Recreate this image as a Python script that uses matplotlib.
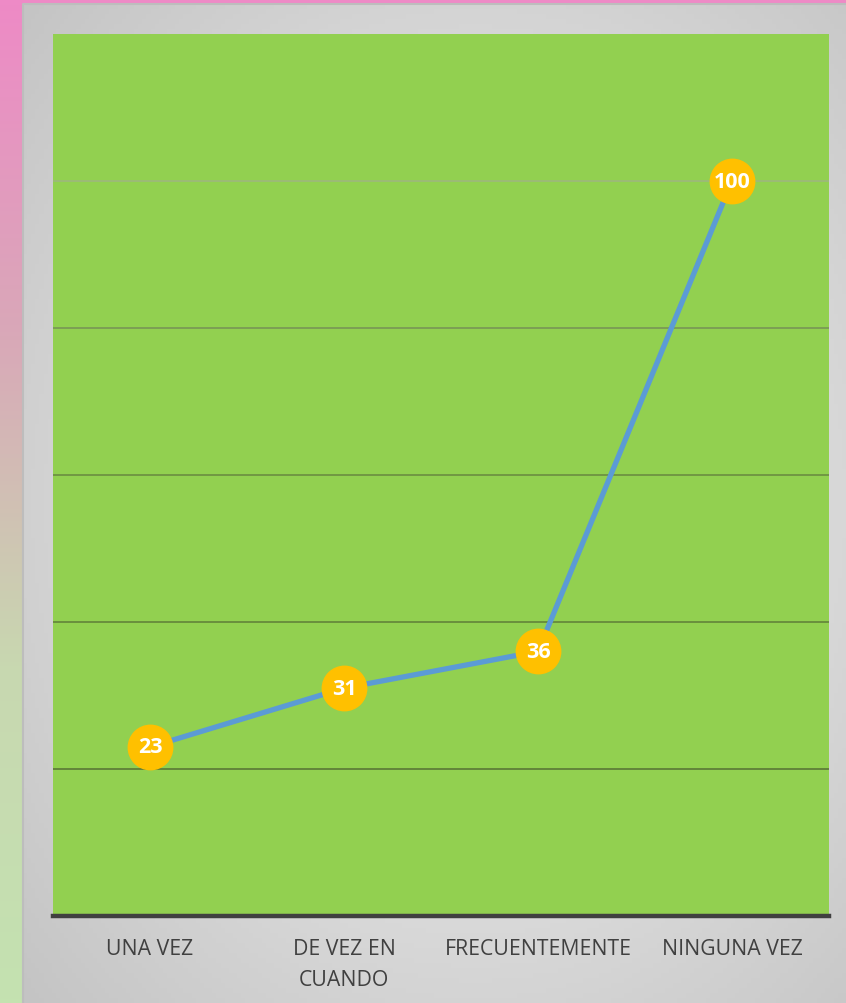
import numpy as np
import matplotlib.pyplot as plt
from matplotlib.colors import LinearSegmentedColormap

categories = ["UNA VEZ", "DE VEZ EN\nCUANDO", "FRECUENTEMENTE", "NINGUNA VEZ"]
values = [23, 31, 36, 100]
y_max = 120
grid_levels = [20, 40, 60, 80, 100]
grid_colors = ["#5f7f38", "#668a3c", "#6e9242", "#7a9a55", "#9cb97a"]

W, H = 846, 1004
fig = plt.figure(figsize=(W / 100, H / 100), dpi=100)

# background: pink/green edge strip, then grey panel
bg = fig.add_axes([0, 0, 1, 1])
bg.set_xlim(0, W)
bg.set_ylim(H, 0)
bg.axis("off")
strip = LinearSegmentedColormap.from_list("strip", ["#ee8ac6", "#d9a8b8", "#c8d8b0", "#c4e2b0"])
bg.imshow(np.linspace(0, 1, 256).reshape(-1, 1), cmap=strip, aspect="auto",
          extent=[0, W, H, 0], zorder=0)
bg.fill_between([0, W], 0, 5, color="#ee8ac6", zorder=1)

yy, xx = np.mgrid[0:1:200j, 0:1:200j]
r = np.sqrt((xx - 0.55) ** 2 + (yy - 0.5) ** 2)
grey = LinearSegmentedColormap.from_list("grey", ["#ebebeb", "#dcdcdc", "#c4c4c4"])
bg.imshow(r, cmap=grey, aspect="auto", extent=[23, W, H, 5], zorder=2)
bg.plot([23, 23, W], [H, 5, 5], color="#bdbdbd", lw=1.5, zorder=3)

ax = fig.add_axes([53 / W, (H - 917) / H, (829 - 53) / W, (917 - 35) / H])
ax.set_facecolor("#92d050")
x = np.arange(len(categories))
ax.set_xlim(-0.5, len(categories) - 0.5)
ax.set_ylim(0, y_max)

for lvl, c in zip(grid_levels, grid_colors):
    ax.axhline(lvl, color=c, lw=1.3, zorder=1)
ax.axhline(0, color="#404040", lw=3.2, zorder=2, clip_on=False)

ax.plot(x, values, color="#5b9bd5", lw=3.8, zorder=3, solid_capstyle="round")
ax.plot(x, values, "o", ms=32, color="#ffc000", mec="#ffc000", zorder=4)
for xi, v in zip(x, values):
    ax.text(xi, v, str(v), ha="center", va="center", color="white",
            fontsize=15.5, fontweight="bold", family="Open Sans", zorder=5)

for s in ax.spines.values():
    s.set_visible(False)
ax.set_yticks([])
ax.set_xticks(x)
ax.set_xticklabels(categories, fontsize=15.3, color="#404040", family="Open Sans",
                   linespacing=1.6, va="top")
ax.tick_params(axis="x", length=0, pad=16)

fig.savefig("out.png", dpi=100)
